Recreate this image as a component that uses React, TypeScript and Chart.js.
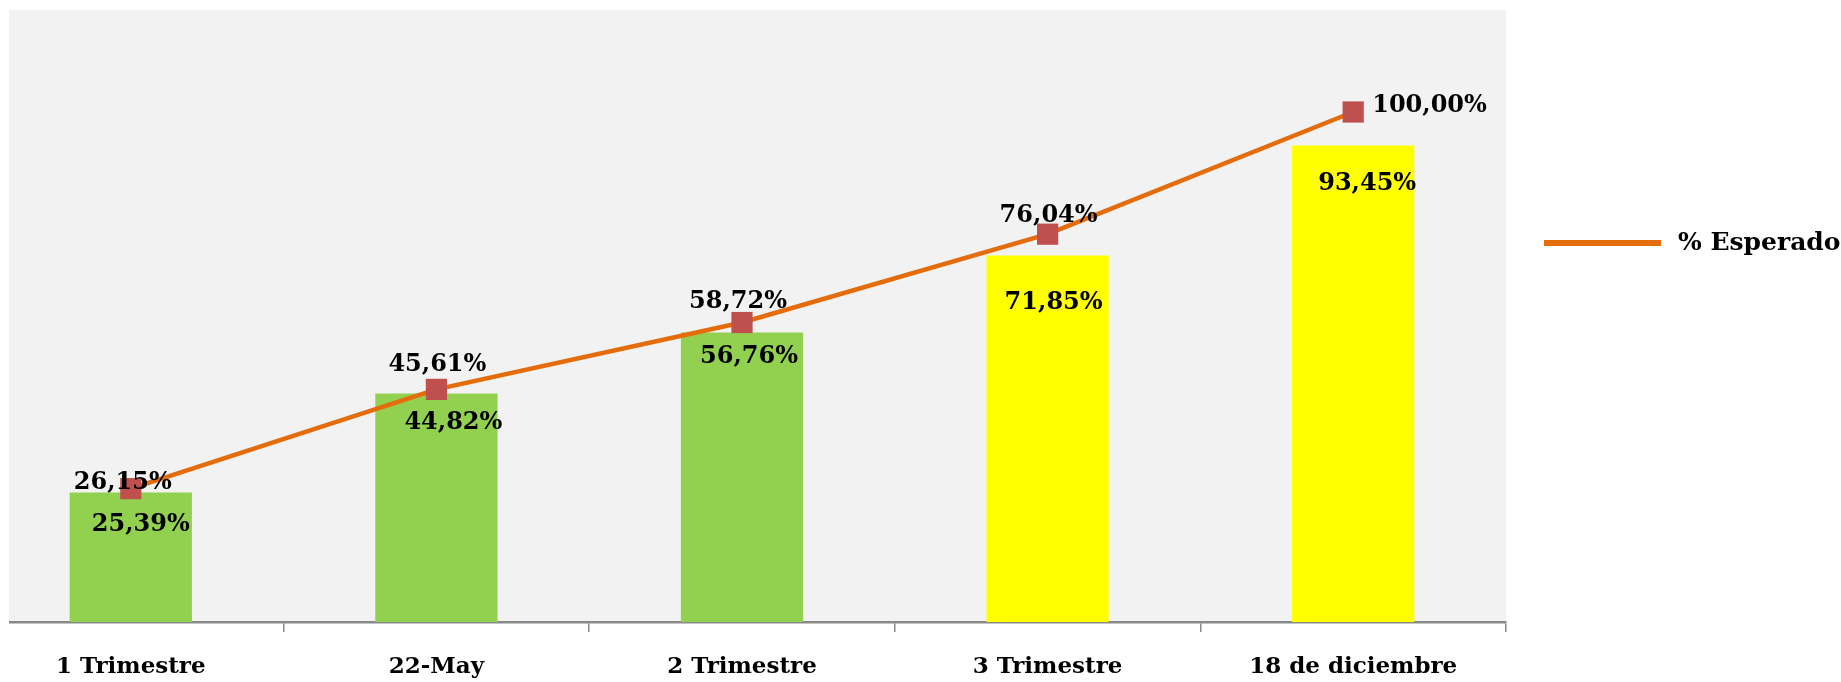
import React, { useEffect, useRef } from "react";
import { Chart, registerables } from "chart.js";

Chart.register(...registerables);

const categories = ["1 Trimestre", "22-May", "2 Trimestre", "3 Trimestre", "18 de diciembre"];
const ejecutado = [25.39, 44.82, 56.76, 71.85, 93.45];
const esperado = [26.15, 45.61, 58.72, 76.04, 100.0];
const barColors = ["#92D050", "#92D050", "#92D050", "#FFFF00", "#FFFF00"];
const yTicks = { min: 0, max: 120 };

// label nudges (style), relative to each mark
const lineLabelOffsets = [
  [-8, -6],
  [1, -25],
  [-4, -21],
  [1, -18],
  [19, -6],
];
const barLabelOffsets = [
  [10, 32],
  [17, 29],
  [7, 24],
  [6, 47],
  [14, 38],
];

const FONT = "'DejaVu Serif', serif";
const fmt = (v: number) => v.toFixed(2).replace(".", ",") + "%";

const bgPlugin = {
  id: "bgPlugin",
  beforeDraw(chart: any) {
    const { ctx, chartArea } = chart;
    ctx.save();
    ctx.fillStyle = "#F2F2F2";
    ctx.fillRect(chartArea.left, chartArea.top, chartArea.right - chartArea.left, chartArea.bottom - chartArea.top);
    ctx.restore();
  },
};

const labelPlugin = {
  id: "labelPlugin",
  afterDatasetsDraw(chart: any) {
    const { ctx } = chart;
    ctx.save();
    ctx.font = `bold 24px ${FONT}`;
    ctx.fillStyle = "#000";
    ctx.textBaseline = "middle";
    const barMeta = chart.getDatasetMeta(1);
    barMeta.data.forEach((el: any, i: number) => {
      const [dx, dy] = barLabelOffsets[i];
      ctx.textAlign = "center";
      ctx.fillText(fmt(ejecutado[i]), el.x + dx, el.y + dy);
    });
    const lineMeta = chart.getDatasetMeta(0);
    lineMeta.data.forEach((el: any, i: number) => {
      const [dx, dy] = lineLabelOffsets[i];
      ctx.textAlign = i === esperado.length - 1 ? "left" : "center";
      ctx.fillText(fmt(esperado[i]), el.x + dx, el.y + dy);
    });
    // legend
    const area = chart.chartArea;
    const lx = area.right + 38;
    const ly = 243;
    ctx.strokeStyle = "#E46C0A";
    ctx.lineWidth = 6;
    ctx.beginPath();
    ctx.moveTo(lx, ly);
    ctx.lineTo(lx + 117, ly);
    ctx.stroke();
    ctx.font = `bold 25px ${FONT}`;
    ctx.textAlign = "left";
    ctx.fillText("% Esperado", lx + 134, ly);
    ctx.restore();
  },
};

export default function App() {
  const ref = useRef<HTMLCanvasElement | null>(null);
  useEffect(() => {
    document.body.style.margin = "0";
    if (!ref.current) return;
    const chart = new Chart(ref.current, {
      type: "bar",
      data: {
        labels: categories,
        datasets: [
          {
            type: "line",
            label: "% Esperado",
            data: esperado,
            borderColor: "#E46C0A",
            borderWidth: 4.5,
            tension: 0,
            pointStyle: "rect",
            pointRadius: 15,
            pointBackgroundColor: "#C0504D",
            pointBorderColor: "#C0504D",
            pointBorderWidth: 0,
            order: 0,
          } as any,
          {
            type: "bar",
            label: "% Ejecutado",
            data: ejecutado,
            backgroundColor: barColors,
            barPercentage: 0.4,
            categoryPercentage: 1.0,
            order: 1,
          },
        ],
      },
      options: {
        responsive: false,
        animation: false,
        layout: { autoPadding: false, padding: { left: 9, right: 335, top: 10, bottom: 0 } },
        plugins: { legend: { display: false }, tooltip: { enabled: false } },
        scales: {
          x: {
            offset: true,
            grid: {
              display: true,
              drawOnChartArea: false,
              drawTicks: true,
              tickLength: 10,
              offset: true,
              color: "#898989",
              lineWidth: 1.5,
            },
            border: { display: true, color: "#898989", width: 2.5 },
            ticks: {
              color: "#000",
              padding: 21,
              font: { family: FONT, weight: "bold", size: 23 },
              maxRotation: 0,
              autoSkip: false,
            },
            afterFit(scale: any) {
              scale.height = 60;
            },
          },
          y: {
            display: false,
            min: yTicks.min,
            max: yTicks.max,
          },
        },
      },
      plugins: [bgPlugin, labelPlugin],
    });
    return () => chart.destroy();
  }, []);
  return (
    <div style={{ position: "relative", marginLeft: 9, width: 1832, height: 682, overflow: "hidden" }}>
      <canvas ref={ref} width={1872} height={682} style={{ position: "absolute", left: -40, top: 0 }} />
    </div>
  );
}
